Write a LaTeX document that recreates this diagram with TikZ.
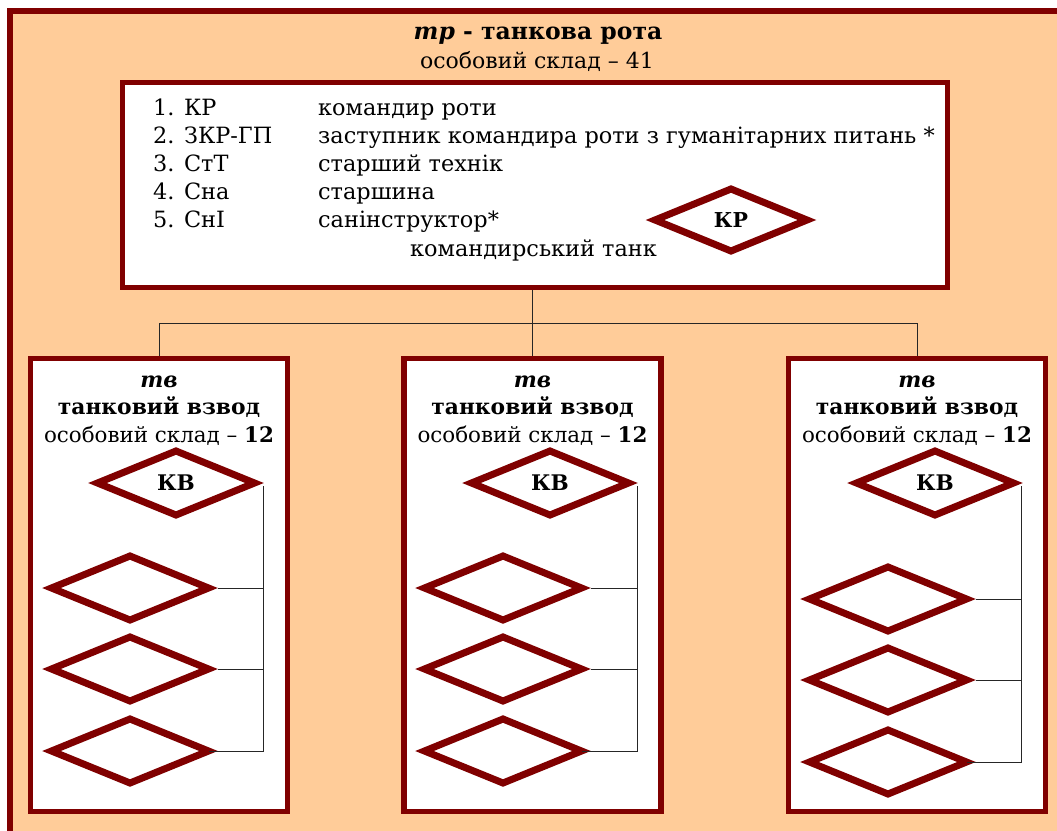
\documentclass[tikz,border=0pt]{standalone}
\usepackage{fontspec}
\setmainfont{DejaVu Serif}
\usetikzlibrary{calc,positioning,shapes.geometric}
\definecolor{maroon}{HTML}{800000}
\definecolor{peach}{HTML}{FFCC99}

\begin{document}
\begin{tikzpicture}[x=1pt,y=-1pt,
  unit/.style={draw=maroon,line width=5.5pt,fill=white,inner sep=0pt},
  tank/.style={diamond,draw=maroon,line width=7pt,fill=white,inner sep=0pt,
    minimum width=157pt,minimum height=64pt,outer sep=0pt,
    font=\bfseries\fontsize{21.5}{21.5}\selectfont},
  link/.style={draw=black!85,line width=0.9pt},
  lbl/.style={inner sep=0pt,anchor=base,font=\fontsize{21.4}{21.4}\selectfont},
  row/.style={inner sep=0pt,anchor=base west,font=\fontsize{22.4}{22.4}\selectfont}]
  \useasboundingbox (0,0) rectangle (1057,830);
  \draw[draw=maroon,fill=peach,line width=6pt] (10,11) rectangle (1080,860);
  \node[lbl,font=\bfseries\fontsize{23.5}{23.5}\selectfont] (title) at (538,39) {\textit{тр} - танкова рота};
  \node[lbl,font=\fontsize{22}{22}\selectfont] (crew) at (537,68) {особовий склад – 41};
  \node[unit,minimum width=825pt,minimum height=205pt] (rota) at (535,185) {};
  \foreach \k/\abbr/\full/\y in {1/КР/командир роти/115,
      2/ЗКР-ГП/заступник командира роти з гуманітарних питань */143,
      3/СтТ/старший технік/171,4/Сна/старшина/199,5/СнІ/санінструктор*/227}{
    \node[row] (ab\k) at (153,\y) {\k. \abbr};
    \node[row] (fn\k) at (318,\y) {\full};
  }
  \node[row] (ctank) at (410,256) {командирський танк};
  \node[tank,minimum width=152pt,minimum height=62pt,font=\bfseries\fontsize{20.5}{20.5}\selectfont] (kr) at (731,220) {КР};
  \coordinate (bus) at (0,323);
  \foreach \i/\cx/\kx/\tx/\dy/\vx in {1/159/176/130/0/263,2/532.5/550/503/0/637,3/917/935/888/11/1021}{
    \node[unit,minimum width=257pt,minimum height=453pt] (box\i) at (\cx,585) {};
    \node[lbl,font=\bfseries\itshape\fontsize{21.8}{21.8}\selectfont] (tv\i) at (\cx,387) {тв};
    \node[lbl,font=\bfseries\fontsize{21.8}{21.8}\selectfont] (name\i) at (\cx,414) {танковий взвод};
    \node[lbl] (crew\i) at (\cx,442) {особовий склад – \textbf{12}};
    \node[tank] (kb\i) at (\kx,483) {КВ};
    \node[tank] (t\i-1) at (\tx,588+\dy) {};
    \node[tank] (t\i-2) at (\tx,669+\dy) {};
    \node[tank] (t\i-3) at (\tx,751+\dy) {};
    \coordinate (v\i) at (\vx,486);
    \draw[link] (v\i) |- (t\i-3.east);
    \draw[link,shorten <=9pt] (t\i-1.east) -- (t\i-1.east -| v\i);
    \draw[link,shorten <=9pt] (t\i-2.east) -- (t\i-2.east -| v\i);
  }
  \draw[link] (rota.south -| box2.north) -- (box2.north);
  \draw[link] (box1.north) |- (bus -| box3.north) -- (box3.north);
\end{tikzpicture}
\end{document}
